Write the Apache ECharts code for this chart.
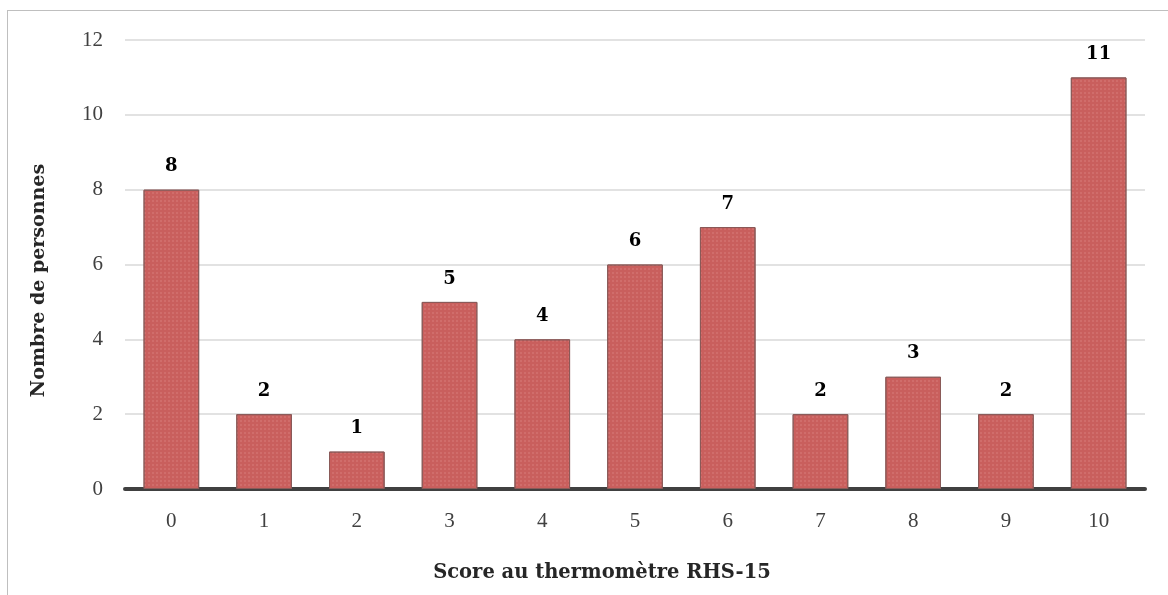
<!DOCTYPE html>
<html><head><meta charset="utf-8">
<script src="https://cdn.jsdelivr.net/npm/echarts@6/dist/echarts.min.js"></script>
<style>html,body{margin:0;padding:0;background:#fff}#c{width:1168px;height:595px;position:relative}
#frame{position:absolute;left:7px;top:10px;width:1170px;height:600px;border:1.5px solid #bfbfbf;box-sizing:border-box;pointer-events:none}</style>
</head><body><div id="c"></div><div id="frame"></div>
<script>
const categories = ['0','1','2','3','4','5','6','7','8','9','10'];
const values = [8,2,1,5,4,6,7,2,3,2,11];
const yTicks = [0,2,4,6,8,10,12];
const chart = echarts.init(document.getElementById('c'));
chart.setOption({
  animation:false,
  grid:{left:125,right:23,top:40,bottom:106},
  xAxis:{type:'category',data:categories,
    name:'Score au thermomètre RHS-15',nameLocation:'middle',nameGap:74,
    nameTextStyle:{fontFamily:'DejaVu Serif',fontSize:19.5,fontWeight:'bold',color:'#262626',padding:[0,66,0,0]},
    axisLine:{lineStyle:{color:'#404040',width:4}},axisTick:{show:false},
    axisLabel:{fontFamily:'Liberation Serif',fontSize:21,color:'#404040',margin:22}},
  yAxis:{type:'value',min:0,max:12,interval:2,
    name:'Nombre de personnes',nameLocation:'middle',nameGap:76,
    nameTextStyle:{fontFamily:'DejaVu Serif',fontSize:19,color:'#262626',fontWeight:'bold',padding:[0,32,0,0]},
    axisLine:{show:false},axisTick:{show:false},
    axisLabel:{fontFamily:'Liberation Serif',fontSize:21,color:'#404040',margin:22,
      formatter:v=>yTicks.includes(v)?String(v):''},
    splitLine:{lineStyle:{color:'#d9d9d9',width:1.5}}},
  series:[{type:'bar',data:values,barWidth:'60%',
    itemStyle:{color:'#c95f5d',borderColor:'#8a5a58',borderWidth:1,
      decal:{symbol:'rect',symbolSize:0.6,color:'rgba(255,200,200,0.45)',dashArrayX:[2,2],dashArrayY:[2,2],rotation:0}},
    label:{show:true,position:'top',distance:14,fontFamily:'DejaVu Serif',fontSize:18,fontWeight:'bold',color:'#000'}}]
});
</script></body></html>
